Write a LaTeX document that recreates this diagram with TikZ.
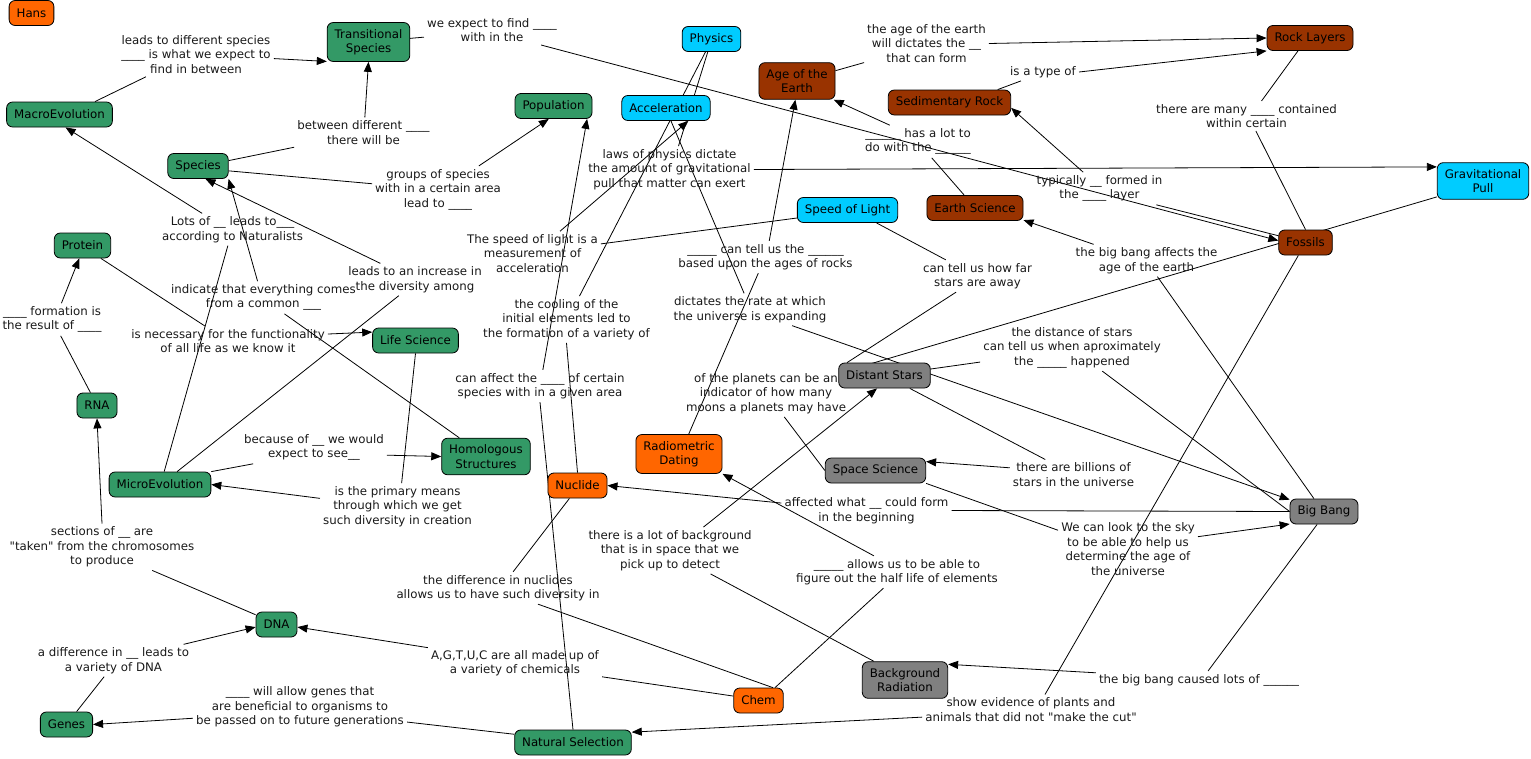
\documentclass[tikz,border=0pt]{standalone}
\usepackage{fontspec}
\setmainfont{DejaVu Sans}
\usetikzlibrary{arrows.meta,backgrounds}

\definecolor{cmGreen}{RGB}{51,153,102}
\definecolor{cmCyan}{RGB}{0,204,255}
\definecolor{cmOrange}{RGB}{255,102,0}
\definecolor{cmBrown}{RGB}{153,51,0}
\definecolor{cmGray}{RGB}{128,128,128}

\begin{document}
\begin{tikzpicture}[x=1pt, y=-1pt,
        every node/.style={font=\fontsize{11.8}{14.5}\selectfont, align=center},
        concept/.style={draw=black, line width=0.8pt, rounded corners=6pt, inner xsep=7.5pt, inner ysep=6.5pt, minimum height=25pt},
        phrase/.style={inner sep=3pt, text=black!90},
        link/.style={line width=0.8pt},
        arr/.style={link, -{Triangle[length=10pt,width=8pt]}}]

        \useasboundingbox (0,0) rectangle (1531,758);

        % Concepts
        \node[concept, fill=cmOrange] (hans) at (31.5,13) {Hans};
        \node[concept, fill=cmGreen] (trans) at (368.5,42) {Transitional\\Species};
        \node[concept, fill=cmGreen] (macro) at (59.5,114.5) {MacroEvolution};
        \node[concept, fill=cmGreen] (species) at (198,166) {Species};
        \node[concept, fill=cmGreen] (pop) at (553.5,106) {Population};
        \node[concept, fill=cmCyan] (physics) at (711.5,39) {Physics};
        \node[concept, fill=cmCyan] (accel) at (666,108) {Acceleration};
        \node[concept, fill=cmBrown] (age) at (797,81) {Age of the\\Earth};
        \node[concept, fill=cmBrown] (sedrock) at (949.5,102.5) {Sedimentary Rock};
        \node[concept, fill=cmBrown] (rocklay) at (1310,38) {Rock Layers};
        \node[concept, fill=cmCyan] (grav) at (1483,181) {Gravitational\\Pull};
        \node[concept, fill=cmBrown] (earthsci) at (975,208) {Earth Science};
        \node[concept, fill=cmCyan] (sol) at (847.5,210) {Speed of Light};
        \node[concept, fill=cmBrown] (fossils) at (1305.5,242.5) {Fossils};
        \node[concept, fill=cmGreen] (protein) at (82.5,245.5) {Protein};
        \node[concept, fill=cmGreen] (lifesci) at (415.5,340.5) {Life Science};
        \node[concept, fill=cmGreen] (rna) at (97,405.5) {RNA};
        \node[concept, fill=cmGreen] (homol) at (486,456.5) {Homologous\\Structures};
        \node[concept, fill=cmGreen] (micro) at (160,484.5) {MicroEvolution};
        \node[concept, fill=cmOrange] (nuclide) at (577.5,485.5) {Nuclide};
        \node[concept, fill=cmOrange] (radio) at (679,454) {Radiometric\\Dating};
        \node[concept, fill=cmGray] (stars) at (884.5,375.5) {Distant Stars};
        \node[concept, fill=cmGray] (spacesci) at (875.5,470.5) {Space Science};
        \node[concept, fill=cmGray] (bigbang) at (1324,511.5) {Big Bang};
        \node[concept, fill=cmGreen] (dna) at (276.5,624.5) {DNA};
        \node[concept, fill=cmGreen] (genes) at (66.5,724.5) {Genes};
        \node[concept, fill=cmOrange] (chem) at (758.5,700.5) {Chem};
        \node[concept, fill=cmGray] (bgrad) at (905,680) {Background\\Radiation};
        \node[concept, fill=cmGreen] (natsel) at (573,742.5) {Natural Selection};

        % Linking phrases
        \node[phrase] (lLeadsTo) at (196,54.5) {leads to different species\\\_\_\_\_ is what we expect to\\find in between};
        \node[phrase] (lBetween) at (363.5,132.5) {between different \_\_\_\_\\there will be};
        \node[phrase] (lExpect) at (492,30) {we expect to find \_\_\_\_\\with in the};
        \node[phrase] (lLots) at (232.5,229.5) {Lots of \_\_ leads to\_\_\_\\according to Naturalists};
        \node[phrase] (lGroups) at (438,189.5) {groups of species\\with in a certain area\\lead to \_\_\_\_};
        \node[phrase] (lLaws) at (669.5,169.5) {laws of physics dictate\\the amount of gravitational\\pull that matter can exert};
        \node[phrase] (lDictates) at (926.5,43.5) {the age of the earth\\will dictates the \_\_\\that can form};
        \node[phrase] (lTypeOf) at (1043,72) {is a type of};
        \node[phrase] (lMany) at (1246.5,116) {there are many \_\_\_\_ contained\\within certain};
        \node[phrase] (lLotTo) at (918,141.5) {\_\_\_\_\_\_ has a lot to\\do with the \_\_\_\_\_\_};
        \node[phrase] (lTypically) at (1099.5,188.5) {typically \_\_ formed in\\the \_\_\_\_ layer};
        \node[phrase] (lSpeedAcc) at (532.5,253.5) {The speed of light is a\\measurement of\\acceleration};
        \node[phrase] (lTellUs) at (765.5,257) {\_\_\_\_\_ can tell us the \_\_\_\_\_\_\\based upon the ages of rocks};
        \node[phrase] (lHowFar) at (977.5,276) {can tell us how far\\stars are away};
        \node[phrase] (lBangAge) at (1146.5,260.5) {the big bang affects the\\age of the earth};
        \node[phrase] (lIndicate) at (263.5,297.5) {indicate that everything comes\\from a common \_\_\_};
        \node[phrase] (lIncrease) at (415,279.5) {leads to an increase in\\the diversity among};
        \node[phrase] (lFormation) at (52,319.5) {\_\_\_\_ formation is\\the result of \_\_\_\_};
        \node[phrase] (lNecessary) at (228,341) {is necessary for the functionality\\of all life as we know it};
        \node[phrase] (lCooling) at (566.5,319.5) {the cooling of the\\initial elements led to\\the formation of a variety of};
        \node[phrase] (lRate) at (750,309.5) {dictates the rate at which\\the universe is expanding};
        \node[phrase] (lDistance) at (1072,347.5) {the distance of stars\\can tell us when aproximately\\the \_\_\_\_\_ happened};
        \node[phrase] (lAffect) at (540,386) {can affect the \_\_\_\_ of certain\\species with in a given area};
        \node[phrase] (lPlanets) at (766,393.5) {of the planets can be an\\indicator of how many\\moons a planets may have};
        \node[phrase] (lBecause) at (314,447.5) {because of \_\_ we would\\expect to see\_\_};
        \node[phrase] (lBillions) at (1073.5,474.5) {there are billions of\\stars in the universe};
        \node[phrase] (lPrimary) at (397.5,506.5) {is the primary means\\through which we get\\such diversity in creation};
        \node[phrase] (lAffected) at (866.5,510.5) {affected what \_\_ could form\\in the beginning};
        \node[phrase] (lSky) at (1128,549) {We can look to the sky\\to be able to help us\\determine the age of\\the universe};
        \node[phrase] (lSections) at (102,547) {sections of \_\_ are\\\textquotedbl taken\textquotedbl{} from the chromosomes\\to produce};
        \node[phrase] (lBackground) at (670,550.5) {there is a lot of background\\that is in space that we\\pick up to detect};
        \node[phrase] (lHalfLife) at (897,572) {\_\_\_\_\_ allows us to be able to\\figure out the half life of elements};
        \node[phrase] (lNuclides) at (498,588) {the difference in nuclides\\allows us to have such diversity in};
        \node[phrase] (lDiffDNA) at (113.5,660.5) {a difference in \_\_ leads to\\a variety of DNA};
        \node[phrase] (lAGTUC) at (515,663) {A,G,T,U,C are all made up of\\a variety of chemicals};
        \node[phrase] (lCaused) at (1199,680) {the big bang caused lots of \_\_\_\_\_\_};
        \node[phrase] (lAllow) at (300,707) {\_\_\_\_ will allow genes that\\are beneficial to organisms to\\be passed on to future generations};
        \node[phrase] (lEvidence) at (1031,709.5) {show evidence of plants and\\animals that did not \textquotedbl make the cut\textquotedbl};

        % Links, drawn behind the boxes
        \begin{pgfonlayer}{background}
        \draw[link] (macro.20) -- (lLeadsTo.204);
        \draw[arr] (lLeadsTo.-3) -- (trans.205);
        \draw[link] (species.10) -- (lBetween.192);
        \draw[arr] (lBetween.85) -- (trans.south);
        \draw[link] (trans.5) -- (lExpect.186);
        \draw[arr] (lExpect.-17) -- (fossils.176);
        \draw[link] (micro.72) -- (lLots.254);
        \draw[arr] (lLots.152) -- (macro.295);
        \draw[link] (species.-9) -- (lGroups.175);
        \draw[arr] (lGroups.30) -- (pop.250);
        \draw[link] (physics.254) -- (lLaws.69);
        \draw[arr] (lLaws.east) -- (grav.163);
        \draw[link] (age.15) -- (lDictates.197);
        \draw[arr] (lDictates.east) -- (rocklay.west);
        \draw[link] (sedrock.15) -- (lTypeOf.202);
        \draw[arr] (lTypeOf.east) -- (rocklay.south west);
        \draw[link] (rocklay.227) -- (lMany.45);
        \draw[link] (lMany.-58) -- (fossils.north);
        \draw[link] (earthsci.130) -- (lLotTo.-50);
        \draw[arr] (lLotTo.150) -- (age.-27);
        \draw[link] (fossils.166) -- (lTypically.-16);
        \draw[arr] (lTypically.135) -- (sedrock.-5);
        \draw[link] (sol.189) -- (lSpeedAcc.8);
        \draw[arr] (lSpeedAcc.39) -- (accel.-30);
        \draw[link] (radio.64) -- (lTellUs.246);
        \draw[arr] (lTellUs.77) -- (age.265);
        \draw[link] (sol.-24) -- (lHowFar.153);
        \draw[link] (lHowFar.217) -- (stars.161);
        \draw[link] (bigbang.128) -- (lBangAge.-56);
        \draw[arr] (lBangAge.163) -- (earthsci.-14);
        \draw[link] (homol.145) -- (lIndicate.-38);
        \draw[arr] (lIndicate.110) -- (species.south east);
        \draw[link] (micro.37) -- (lIncrease.225);
        \draw[arr] (lIncrease.155) -- (species.-60);
        \draw[link] (rna.117) -- (lFormation.-62);
        \draw[arr] (lFormation.60) -- (protein.256);
        \draw[link] (protein.-35) -- (lNecessary.147);
        \draw[arr] (lNecessary.4) -- (lifesci.169);
        \draw[link] (physics.245) -- (lCooling.61);
        \draw[link] (lCooling.south) -- (nuclide.north);
        \draw[link] (accel.-69) -- (lRate.110);
        \draw[arr] (lRate.-21) -- (bigbang.161);
        \draw[link] (stars.8) -- (lDistance.189);
        \draw[link] (lDistance.-38) -- (bigbang.west);
        \draw[link] (natsel.north) -- (lAffect.south);
        \draw[arr] (lAffect.80) -- (pop.-21);
        \draw[link] (grav.199) -- (lPlanets.north east);
        \draw[link] (lPlanets.-52) -- (spacesci.west);
        \draw[link] (micro.north east) -- (lBecause.195);
        \draw[arr] (lBecause.-6) -- (homol.west);
        \draw[link] (stars.-27) -- (lBillions.152);
        \draw[arr] (lBillions.174) -- (spacesci.10);
        \draw[link] (lifesci.south) -- (lPrimary.80);
        \draw[arr] (lPrimary.174) -- (micro.east);
        \draw[link] (bigbang.west) -- (lAffected.east);
        \draw[arr] (lAffected.175) -- (nuclide.east);
        \draw[link] (spacesci.south east) -- (lSky.165);
        \draw[arr] (lSky.10) -- (bigbang.200);
        \draw[link] (dna.155) -- (lSections.-25);
        \draw[arr] (lSections.north) -- (rna.south);
        \draw[link] (bgrad.149) -- (lBackground.-30);
        \draw[arr] (lBackground.35) -- (stars.240);
        \draw[link] (chem.38) -- (lHalfLife.230);
        \draw[arr] (lHalfLife.145) -- (radio.south east);
        \draw[link] (nuclide.238) -- (lNuclides.47);
        \draw[link] (lNuclides.-22) -- (chem.42);
        \draw[link] (genes.52) -- (lDiffDNA.240);
        \draw[arr] (lDiffDNA.13) -- (dna.187);
        \draw[link] (chem.170) -- (lAGTUC.-9);
        \draw[arr] (lAGTUC.170) -- (dna.-7);
        \draw[link] (bigbang.242) -- (lCaused.45);
        \draw[arr] (lCaused.176) -- (bgrad.20);
        \draw[link] (natsel.172) -- (lAllow.-8);
        \draw[arr] (lAllow.186) -- (genes.east);
        \draw[link] (fossils.241) -- (lEvidence.47);
        \draw[arr] (lEvidence.184) -- (natsel.10);
        \end{pgfonlayer}
    \end{tikzpicture}
\end{document}
